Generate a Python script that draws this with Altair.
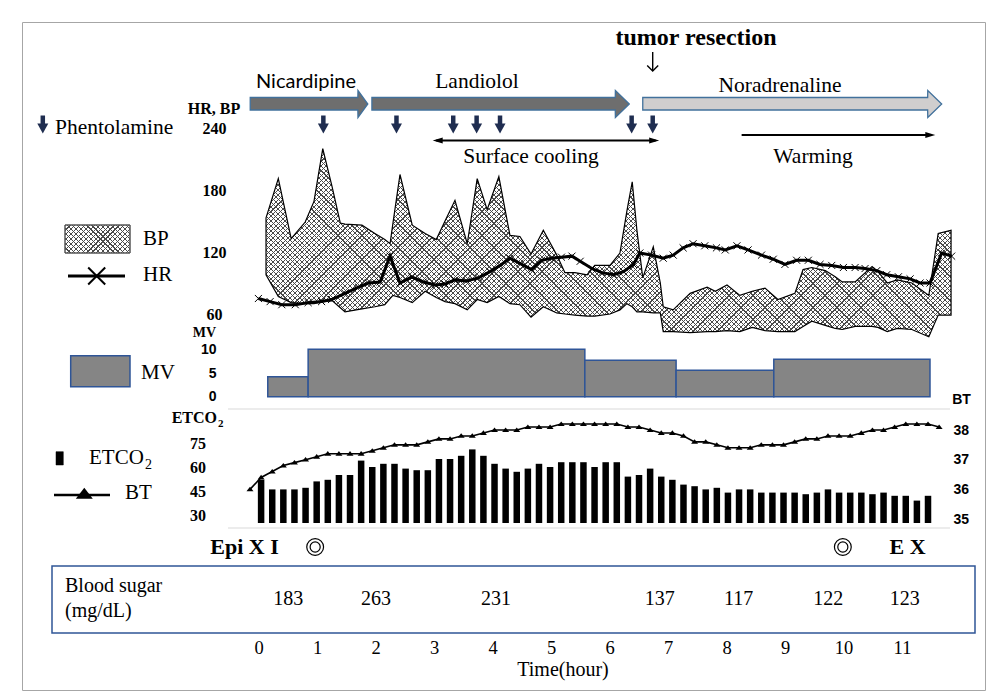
import altair as alt
import pandas as pd

# ------------------------------------------------------------------ data
# Heart rate (beats/min) against time (h)
hr_time = [-0.01, 0.19, 0.39, 0.62, 0.84, 1.07, 1.24, 1.47, 1.70, 1.87,
           2.07, 2.24, 2.41, 2.61, 2.81, 3.01, 3.18, 3.35, 3.55, 3.75,
           3.95, 4.12, 4.29, 4.46, 4.66, 4.83, 5.00, 5.17, 5.35, 5.49,
           5.69, 5.86, 6.06, 6.23, 6.40, 6.51, 6.71, 6.91, 7.08, 7.25,
           7.42, 7.62, 7.82, 7.97, 8.17, 8.36, 8.59, 8.79, 8.99, 9.19,
           9.39, 9.59, 9.79, 9.99, 10.19, 10.36, 10.56, 10.73, 10.93, 11.13,
           11.30, 11.47, 11.67, 11.84]
hr_value = [75, 72, 69, 69, 71, 72, 74, 80, 86, 90,
            91, 116, 90, 96, 91, 88, 89, 93, 92, 95,
            101, 107, 114, 109, 103, 112, 114, 115, 116, 111,
            104, 100, 98, 101, 108, 119, 117, 114, 117, 124,
            128, 126, 124, 122, 126, 122, 117, 113, 108, 112,
            112, 108, 107, 105, 105, 104, 102, 98, 96, 94,
            90, 90, 119, 116]

# Blood pressure (mmHg): systolic / diastolic against time (h)
bp_time = [0.12, 0.33, 0.55, 0.79, 0.94, 1.09, 1.25, 1.39, 1.47, 1.76,
           1.98, 2.15, 2.24, 2.29, 2.41, 2.62, 2.84, 3.03, 3.18, 3.35,
           3.56, 3.73, 3.90, 4.10, 4.29, 4.46, 4.65, 4.86, 5.09, 5.23,
           5.40, 5.61, 5.74, 6.00, 6.17, 6.29, 6.38, 6.46, 6.56, 6.74,
           6.86, 6.91, 7.08, 7.37, 7.66, 7.80, 8.00, 8.22, 8.43, 8.65,
           8.87, 9.16, 9.30, 9.45, 9.68, 9.85, 9.97, 10.19, 10.48, 10.58,
           10.74, 10.91, 11.16, 11.45, 11.61, 11.83]
bp_sys = [153, 191, 133, 149, 169, 220, 183, 148, 147, 146,
          138, 132, 128, 148, 195, 146, 138, 132, 150, 170,
          128, 191, 161, 193, 136, 135, 118, 141, 117, 100,
          100, 98, 107, 107, 119, 160, 188, 141, 95, 125,
          90, 67, 64, 80, 86, 82, 88, 78, 82, 85,
          74, 80, 103, 105, 102, 96, 91, 91, 106, 101,
          90, 93, 90, 78, 138, 141]
bp_dia = [98, 77, 71, 70, 70, 72, 73, 66, 62, 65,
          67, 69, 75, 78, 76, 71, 82, 76, 72, 70,
          64, 74, 71, 77, 70, 69, 57, 67, 61, 60,
          59, 58, 58, 60, 64, 70, 67, 62, 62, 61,
          61, 43, 43, 42, 43, 43, 44, 43, 47, 44,
          43, 43, 48, 53, 49, 46, 45, 48, 48, 47,
          43, 46, 45, 38, 59, 59]

# Minute ventilation (L/min), piecewise
mv_start = [0.15, 0.84, 5.57, 7.13, 8.80]
mv_end = [0.84, 5.57, 7.13, 8.80, 11.47]
mv_value = [4.2, 10, 7.7, 5.6, 7.9]

# Body temperature (deg C) and ETCO2 (mmHg) on one sampling grid
sample_start = -0.154   # h
sample_step = 0.19      # h
bt_value = [36.0, 36.4, 36.6, 36.8, 36.9, 37.0, 37.1, 37.2, 37.2, 37.2,
            37.2, 37.3, 37.4, 37.5, 37.5, 37.5, 37.6, 37.7, 37.7, 37.8,
            37.8, 37.9, 38.0, 38.0, 38.0, 38.1, 38.1, 38.1, 38.2, 38.2,
            38.2, 38.2, 38.2, 38.2, 38.1, 38.1, 38.0, 37.9, 37.9, 37.8,
            37.6, 37.6, 37.5, 37.4, 37.4, 37.4, 37.5, 37.5, 37.5, 37.6,
            37.7, 37.7, 37.8, 37.8, 37.8, 37.9, 38.0, 38.0, 38.1, 38.2,
            38.2, 38.2, 38.1]
etco2_value = [52, 46, 46, 46, 47, 51, 52, 55, 55, 64,
               60, 62, 62, 59, 58, 58, 65, 65, 67, 71,
               67, 62, 59, 57, 59, 62, 60, 63, 63, 63,
               60, 63, 63, 54, 55, 59, 54, 52, 49, 48,
               46, 47, 44, 46, 46, 44, 44, 44, 44, 43,
               44, 46, 44, 44, 44, 43, 44, 42, 42, 39, 42]
etco2_base = 25

# Blood sugar (mg/dL)
bs_time = [0.5, 2.0, 4.05, 6.85, 8.2, 9.73, 11.04]
bs_value = [183, 263, 231, 137, 117, 122, 123]

# Events
phen_time = [1.10, 2.35, 3.32, 3.72, 4.12, 6.37, 6.73]
drug_name = ["Nicardipine", "Landiolol", "Noradrenaline"]
drug_start = [-0.15, 1.93, 6.56]
drug_end = [1.86, 6.33, 11.67]
drug_head = [0.17, 0.24, 0.24]
cooling_start, cooling_end = 2.97, 6.84
warming_start, warming_end = 8.25, 11.56
resection_time = 6.73
circle_time = [0.96, 9.98]
time_ticks = list(range(12))

# ------------------------------------------------------------------ layout
LEFT, TOP = 22, 22          # plot origin on the page
W, H = 963, 668             # plot area = whole framed figure
X0, PXH = 259, 58.5         # page x of hour 0, pixels per hour


def T(px):
    return (px - X0) / PXH


def R(py):
    return py - TOP


SERIF = "Liberation Serif"
SANS = "Liberation Sans"
BLUE = "#2f5597"
ABLUE = "#41719c"

xs = alt.Scale(domain=[0, 11], range=[X0 - LEFT, X0 - LEFT + 11 * PXH], nice=False, zero=False)
pys = alt.Scale(domain=[0, H], range=[0, H], nice=False, zero=False)


def X(field):
    return alt.X(field, type="quantitative", scale=xs, axis=None)


def PY(field):
    return alt.Y(field, type="quantitative", scale=pys, axis=None, stack=None)


def hatch(w, h, period, frac, ink, back, direction):
    r = h / w
    a = (1 + r) / (1 + r * r)
    n = max(1, int(round((w + h) / period)))
    stops = []
    for k in range(n):
        o0, o1, o2 = k / n, (k + frac) / n, (k + 1) / n
        stops += [{"offset": round(o0, 6), "color": ink},
                  {"offset": round(o1, 6), "color": ink},
                  {"offset": round(o1, 6), "color": back},
                  {"offset": round(o2, 6), "color": back}]
    if direction > 0:
        return {"gradient": "linear", "x1": 0, "y1": 0, "x2": a, "y2": a * r, "stops": stops}
    return {"gradient": "linear", "x1": 0, "y1": 1, "x2": a, "y2": 1 - a * r, "stops": stops}


CLEAR = "rgba(255,255,255,0)"
INK = "#4a4a4a"

CROSS = "M-1,-1L1,1M-1,1L1,-1"
TRI_UP = "M-1,0.55L1,0.55L0,-0.75Z"
TRI_DOWN = "M-1,-0.9L1,-0.9L0,0.9Z"
TRI_RIGHT = "M-1,-0.6L1,0L-1,0.6Z"
TRI_LEFT = "M1,-0.6L-1,0L1,0.6Z"
VHEAD = "M-1,-1L0,0L1,-1"

# ------------------------------------------------------------------ BP / HR
bp_y = alt.Scale(domain=[60, 240], range=[R(314), R(128)], nice=False, zero=False)
bp_px = (R(314) - R(128)) / 180.0
bp_df = pd.DataFrame({"t": bp_time, "sys": bp_sys, "dia": bp_dia})
bw = (max(bp_time) - min(bp_time)) * PXH
bh = (max(bp_sys) - min(bp_dia)) * bp_px

bp_axis = alt.Axis(orient="left", values=[60, 120, 180, 240], offset=-(214 - LEFT),
                   labelAlign="center", labelBaseline="middle", labelPadding=0,
                   ticks=False, tickSize=0, domain=False, grid=False, title=None,
                   labelFont=SERIF, labelFontWeight="bold", labelFontSize=16, labelColor="black")

bp_fill1 = alt.Chart(bp_df).mark_area(
    fill=hatch(bw, bh, 4.8, 0.24, INK, "white", 1), strokeWidth=0
).encode(x=X("t"), y=alt.Y("sys:Q", scale=bp_y, axis=bp_axis, stack=None), y2="dia:Q")
bp_fill2 = alt.Chart(bp_df).mark_area(
    fill=hatch(bw, bh, 4.8, 0.24, INK, CLEAR, -1), stroke="black", strokeWidth=1.2
).encode(x=X("t"), y=alt.Y("sys:Q", scale=bp_y, axis=None, stack=None), y2="dia:Q")

hr_df = pd.DataFrame({"t": hr_time, "hr": hr_value})
hr_line = alt.Chart(hr_df).mark_line(color="black", strokeWidth=3).encode(
    x=X("t"), y=alt.Y("hr:Q", scale=bp_y, axis=None))
hr_pts = alt.Chart(hr_df).mark_point(shape=CROSS, size=50, filled=False, color="black",
                                     strokeWidth=1, opacity=1).encode(
    x=X("t"), y=alt.Y("hr:Q", scale=bp_y, axis=None))

# ------------------------------------------------------------------ MV
mv_y = alt.Scale(domain=[0, 10], range=[R(396.7), R(349.3)], nice=False, zero=False)
mv_axis = alt.Axis(orient="left", values=[0, 5, 10], offset=-(216 - LEFT),
                   labelAlign="right", labelBaseline="middle", labelPadding=0,
                   ticks=False, tickSize=0, domain=False, grid=False, title=None,
                   labelFont=SANS, labelFontWeight="bold", labelFontSize=14, labelColor="black")
mv_df = pd.DataFrame({"start": mv_start, "end": mv_end, "mv": mv_value, "base": 0})
mv_bars = alt.Chart(mv_df).mark_rect(fill="#858585", stroke=BLUE, strokeWidth=1.5).encode(
    x=X("start"), x2="end:Q", y=alt.Y("mv:Q", scale=mv_y, axis=mv_axis), y2="base:Q")

# ------------------------------------------------------------------ ETCO2 / BT
samp_t = [sample_start + i * sample_step for i in range(len(bt_value))]
et_df = pd.DataFrame({"t": samp_t[1:1 + len(etco2_value)], "etco2": etco2_value, "base": etco2_base})
et_y = alt.Scale(domain=[30, 75], range=[R(515), R(443)], nice=False, zero=False)
et_axis = alt.Axis(orient="left", values=[30, 45, 60, 75], offset=-(197.5 - LEFT),
                   labelAlign="center", labelBaseline="middle", labelPadding=0,
                   ticks=False, tickSize=0, domain=False, grid=False, title=None,
                   labelFont=SERIF, labelFontWeight="bold", labelFontSize=16, labelColor="black")
et_bars = alt.Chart(et_df).mark_rule(color="black", strokeWidth=6.5, strokeCap="butt").encode(
    x=X("t"), y=alt.Y("etco2:Q", scale=et_y, axis=et_axis), y2="base:Q")

bt_df = pd.DataFrame({"t": samp_t, "bt": bt_value})
bt_y = alt.Scale(domain=[35, 38], range=[R(519), R(430)], nice=False, zero=False)
bt_axis = alt.Axis(orient="right", values=[35, 36, 37, 38], offset=(953 - LEFT) - W,
                   labelAlign="left", labelBaseline="middle", labelPadding=0,
                   ticks=False, tickSize=0, domain=False, grid=False, title=None,
                   labelFont=SANS, labelFontWeight="bold", labelFontSize=14, labelColor="black")
bt_line = alt.Chart(bt_df).mark_line(color="black", strokeWidth=1.6).encode(
    x=X("t"), y=alt.Y("bt:Q", scale=bt_y, axis=bt_axis))
bt_pts = alt.Chart(bt_df).mark_point(shape=TRI_UP, size=49, filled=True, color="black",
                                     opacity=1, strokeWidth=0).encode(
    x=X("t"), y=alt.Y("bt:Q", scale=bt_y, axis=None))

# ------------------------------------------------------------------ annotations
anno = []


def texts(rows, font, size, weight="normal", align="center", color="black"):
    df = pd.DataFrame(rows, columns=["t", "y", "label"])
    return alt.Chart(df).mark_text(font=font, fontSize=size, fontWeight=weight, align=align,
                                   baseline="middle", color=color).encode(
        x=X("t"), y=PY("y"), text="label:N")


def hrule(rows, color="black", width=1.0):
    df = pd.DataFrame(rows, columns=["t", "t2", "y"])
    return alt.Chart(df).mark_rule(color=color, strokeWidth=width).encode(
        x=X("t"), x2="t2:Q", y=PY("y"))


def points(rows, shape, size, filled=True, color="black", width=1.0):
    df = pd.DataFrame(rows, columns=["t", "y"])
    if filled:
        m = alt.Chart(df).mark_point(shape=shape, size=size, filled=True, color=color,
                                     opacity=1, strokeWidth=0)
    else:
        m = alt.Chart(df).mark_point(shape=shape, size=size, filled=False, color=color,
                                     opacity=1, strokeWidth=width)
    return m.encode(x=X("t"), y=PY("y"))


def box(rows, fill, stroke, width=1.0):
    df = pd.DataFrame(rows, columns=["t", "t2", "y", "y2"])
    return alt.Chart(df).mark_rect(fill=fill, stroke=stroke, strokeWidth=width).encode(
        x=X("t"), x2="t2:Q", y=PY("y"), y2="y2:Q")


# panel separators
anno.append(hrule([(T(228), T(950), R(409)), (T(228), T(950), R(528))], color="#d9d9d9", width=1))

# drug infusion block arrows
arr_rows = []
for nm, s, e, hl in zip(drug_name, drug_start, drug_end, drug_head):
    h0 = e - hl
    arr_rows += [(nm, s, R(97.5), R(110), 0), (nm, h0, R(97.5), R(110), 1),
                 (nm, h0 + 0.002, R(90.5), R(117.5), 2), (nm, e, R(104), R(104), 3)]
arr_df = pd.DataFrame(arr_rows, columns=["name", "t", "top", "bot", "k"])
anno.append(alt.Chart(arr_df).mark_area(stroke=ABLUE, strokeWidth=1.3, opacity=1).encode(
    x=X("t"), y=PY("top"), y2="bot:Q",
    color=alt.Color("name:N", scale=alt.Scale(domain=drug_name,
                                              range=["#6e6e6e", "#6e6e6e", "#d0cece"]),
                    legend=None)))
anno.append(texts([(T(306), R(82), "Nicardipine")], "Lato", 20))
anno.append(texts([(T(477), R(82), "Landiolol"), (T(780), R(86), "Noradrenaline"),
                   (T(531), R(157), "Surface cooling"), (T(813), R(157), "Warming")], SERIF, 21.5))
anno.append(texts([(T(696), R(38), "tumor resection")], SERIF, 24, weight="bold"))

# tumor resection pointer (thin arrow)
res_df = pd.DataFrame({"t": [resection_time], "y": [R(52)], "y2": [R(71)]})
anno.append(alt.Chart(res_df).mark_rule(color="black", strokeWidth=1.4).encode(
    x=X("t"), y=PY("y"), y2="y2:Q"))
anno.append(points([(resection_time, R(71))], VHEAD, 121, filled=False, width=1.4))

# phentolamine doses (+ legend arrow)
phen_all = list(phen_time) + [T(42.8)]
phen_df = pd.DataFrame({"t": phen_all, "y": R(115.5), "y2": R(124.5)})
anno.append(alt.Chart(phen_df).mark_rule(color="#1f2d50", strokeWidth=4.5, strokeCap="butt").encode(
    x=X("t"), y=PY("y"), y2="y2:Q"))
anno.append(points([(t, R(128.5)) for t in phen_all], TRI_DOWN, 121, color="#1f2d50"))
anno.append(texts([(T(55), R(128), "Phentolamine")], SERIF, 21.5, align="left"))

# surface cooling / warming arrows
anno.append(hrule([(cooling_start + 0.06, cooling_end - 0.06, R(140.5)),
                   (warming_start, warming_end - 0.06, R(135))], width=2))
anno.append(points([(cooling_start + 0.085, R(140.5))], TRI_LEFT, 100))
anno.append(points([(cooling_end - 0.085, R(140.5)), (warming_end - 0.085, R(135))], TRI_RIGHT, 100))

# axis titles
anno.append(texts([(T(214), R(109), "HR, BP")], SERIF, 16, weight="bold"))
anno.append(texts([(T(204.5), R(333), "MV")], SERIF, 14, weight="bold"))
anno.append(texts([(T(171.7), R(418), "ETCO")], SERIF, 16, weight="bold", align="left"))
anno.append(texts([(T(218), R(423.5), "2")], SERIF, 11, weight="bold", align="left"))
anno.append(texts([(T(961.5), R(400), "BT")], SANS, 14, weight="bold"))

# legend (left column)
anno.append(box([(T(65), T(130), R(225), R(253))],
                hatch(65, 28, 4.8, 0.24, INK, "white", 1), "#595959", 1))
anno.append(box([(T(65), T(130), R(225), R(253))],
                hatch(65, 28, 4.8, 0.24, INK, CLEAR, -1), "#595959", 1))
anno.append(hrule([(T(68), T(125), R(276))], width=3))
anno.append(points([(T(96.7), R(276))], CROSS, 289, filled=False, width=2))
anno.append(box([(T(70.7), T(130), R(355.7), R(386.7))], "#858585", BLUE, 1.5))
anno.append(box([(T(56), T(63.3), R(451.7), R(465))], "black", "black", 0.5))
anno.append(hrule([(T(54), T(110), R(495))], width=2.5))
anno.append(points([(T(84.3), R(494))], TRI_UP, 289))
anno.append(texts([(T(143), R(239), "BP"), (T(143), R(275), "HR"), (T(141), R(373), "MV"),
                   (T(89), R(458), "ETCO"), (T(125), R(493), "BT")], SERIF, 21, align="left"))
anno.append(texts([(T(145), R(465), "2")], SERIF, 14, align="left"))

# event markers under the chart
anno.append(texts([(T(244.5), R(547), "Epi X I"), (T(907.5), R(547), "E X")], SERIF, 22, weight="bold"))
anno.append(points([(t, R(547)) for t in circle_time], "circle", 283, filled=False, width=1.2))
anno.append(points([(t, R(547)) for t in circle_time], "circle", 102, filled=False, width=1.2))

# blood sugar table
anno.append(box([(T(52), T(975), R(566), R(633))], "white", BLUE, 1.5))
anno.append(texts([(T(65), R(586), "Blood sugar"), (T(65), R(611), "(mg/dL)")], SERIF, 20, align="left"))
anno.append(texts([(t, R(599), str(v)) for t, v in zip(bs_time, bs_value)], SERIF, 20))

# time axis (hour labels placed through the time scale) and its title
anno.append(texts([(t, R(648), str(t)) for t in time_ticks], SERIF, 18.5))
anno.append(texts([(T(563), R(670), "Time(hour)")], SERIF, 20))

layers = anno + [bp_fill1, bp_fill2, hr_line, hr_pts, mv_bars, et_bars, bt_line, bt_pts]

chart = alt.layer(*layers).resolve_scale(
    y="independent"
).properties(
    width=W, height=H,
    padding={"left": LEFT - 8, "top": TOP - 8, "right": 2, "bottom": 2},
    autosize=alt.AutoSizeParams(type="none"),
).configure_view(
    stroke="#a6a6a6", strokeWidth=1
).configure_axis(grid=False)

chart.save("out.html", embed_options={"renderer": "svg", "actions": False})
